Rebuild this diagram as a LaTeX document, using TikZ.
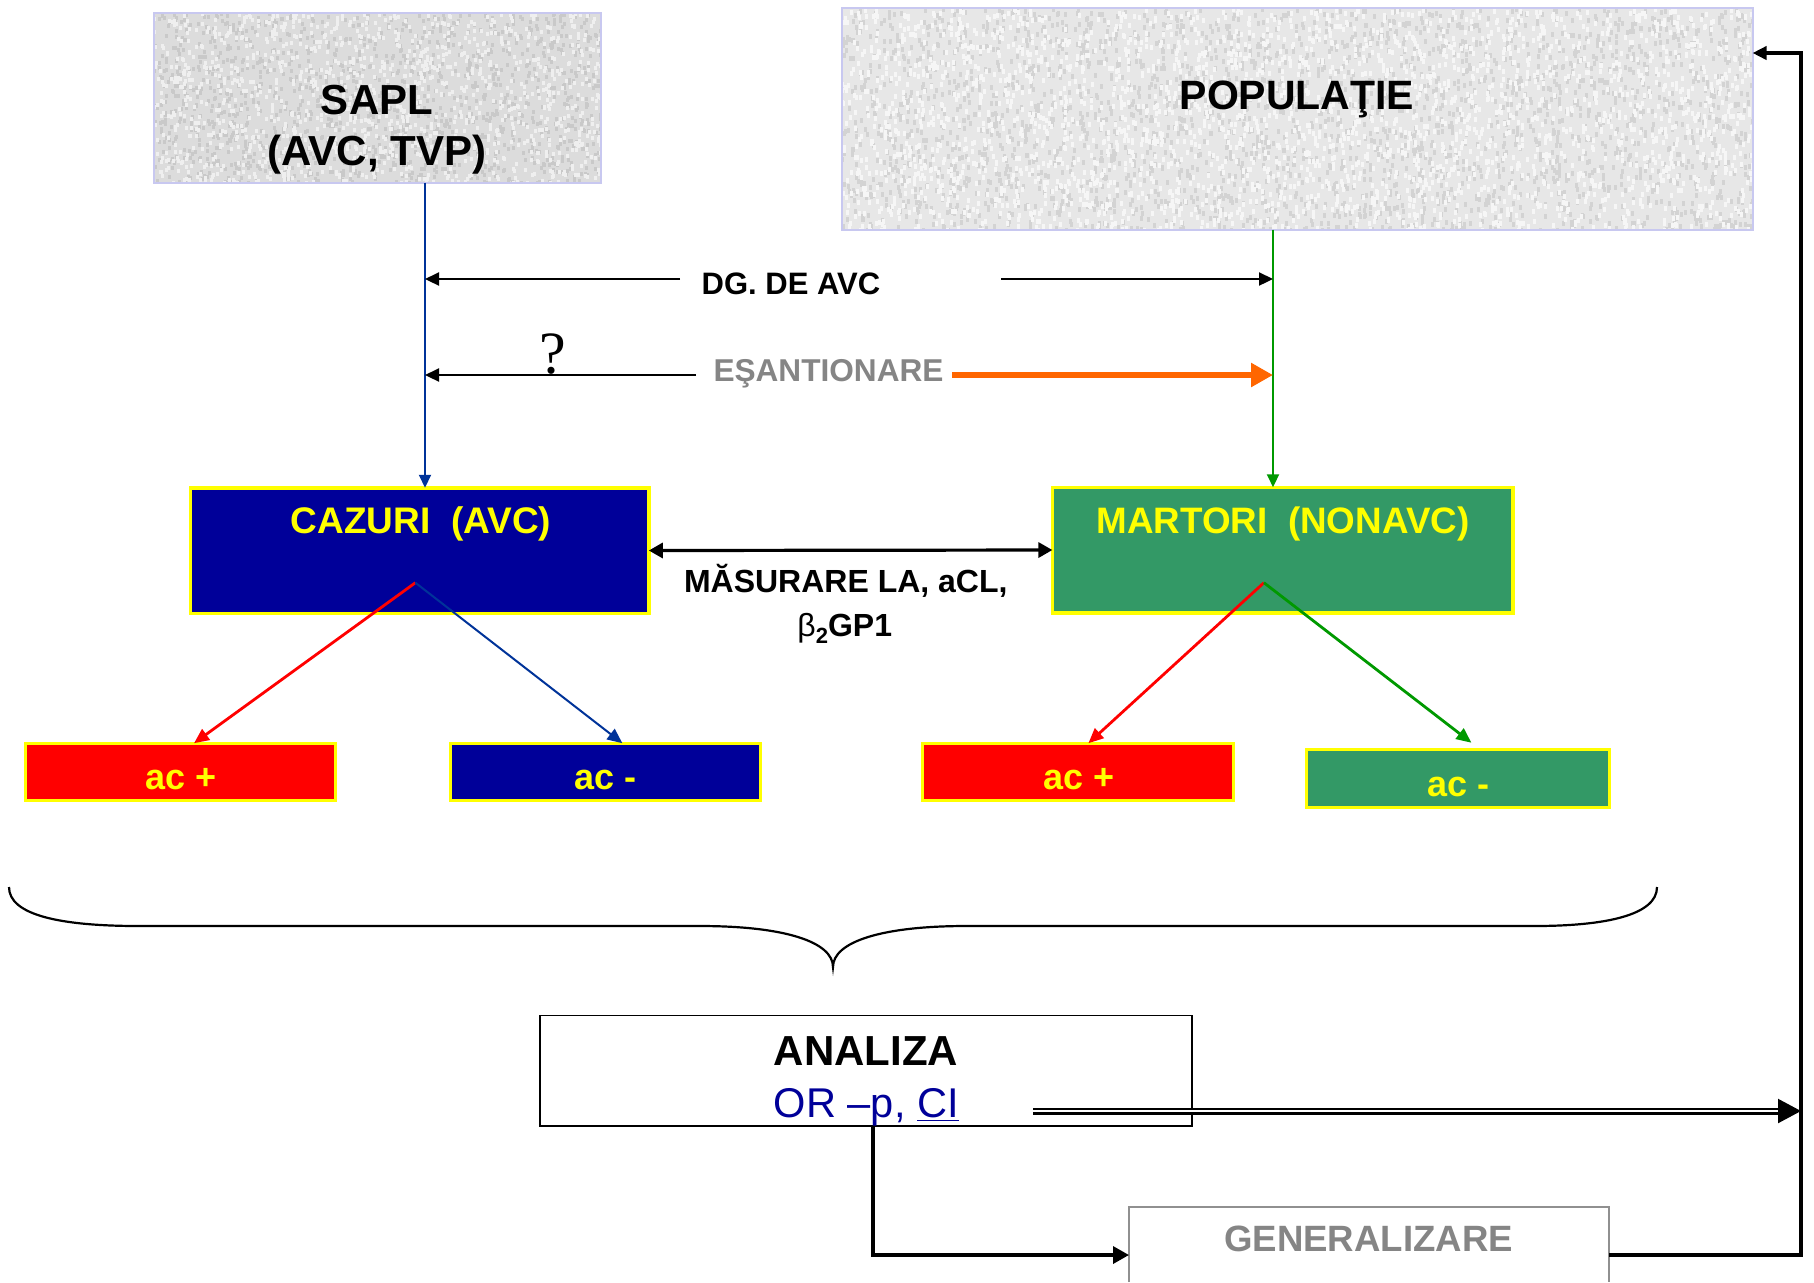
\documentclass[tikz,border=0pt]{standalone}
\usepackage{fontspec}
\setmainfont{Liberation Sans}
\newfontfamily\qfont{Liberation Serif}
\usetikzlibrary{arrows.meta}

\definecolor{boxblue}{HTML}{000099}
\definecolor{boxgreen}{HTML}{339966}
\definecolor{boxred}{HTML}{FF0000}
\definecolor{hiyellow}{HTML}{FFFF00}
\definecolor{lineblue}{HTML}{003399}
\definecolor{linegreen}{HTML}{009900}
\definecolor{orangearrow}{HTML}{FF6600}
\definecolor{framelav}{HTML}{C8C8F0}
\definecolor{graniteA}{HTML}{DCDCDC}
\definecolor{darkA}{HTML}{C9C9C9}
\definecolor{lightA}{HTML}{EFEFEF}
\definecolor{graniteB}{HTML}{E7E7E7}
\definecolor{darkB}{HTML}{D3D3D3}
\definecolor{lightB}{HTML}{F6F6F6}
\definecolor{textgray}{HTML}{858585}
\definecolor{framegray}{HTML}{909090}

\newcommand\setfs[1]{\fontsize{#1pt}{#1pt}\selectfont}
% random blotches inside a rectangle: x0, y0, w, h, count, colour, blotch height
\newcommand\speckle[7]{%
  \foreach \k in {1,...,#5}{%
    \pgfmathsetmacro\spx{#1+rnd*#3}%
    \pgfmathsetmacro\spy{#2+rnd*#4}%
    \fill[#6] (\spx,\spy) rectangle ++(3,#7);
  }}

\begin{document}
\begin{tikzpicture}[x=0.5pt,y=-0.5pt,
  boxframe/.style={rectangle, inner sep=0pt, outer sep=0pt},
  txt/.style={inner sep=0pt, outer sep=0pt, anchor=base},
  colbox/.style={boxframe, draw=hiyellow, line width=1.75pt},
  acbox/.style={boxframe, draw=hiyellow, line width=1.5pt},
  thinarrow/.style={draw=black, line width=1.1pt, -{Triangle[length=7pt,width=6.5pt]}},
  splitarrow/.style={line width=1.4pt, -{Triangle[length=7.5pt,width=6.5pt]}},
  heavyline/.style={draw=black, line width=2pt}]
\useasboundingbox (0,0) rectangle (1814,1282);
\fill[white] (0,0) rectangle (1814,1282);
\pgfmathsetseed{4242}

% ---- source boxes with granite texture
\fill[graniteA] (153,12) rectangle (601,183);
\begin{scope}
  \clip (153,12) rectangle (601,183);
  \speckle{153}{12}{448}{171}{1300}{darkA}{4}
  \speckle{153}{12}{448}{171}{1300}{lightA}{4}
\end{scope}
\node[boxframe, draw=framelav, line width=1pt, minimum width=223.5pt, minimum height=85pt] (sapl) at (377,97.5) {};

\fill[graniteB] (841,7) rectangle (1753,230);
\begin{scope}
  \clip (841,7) rectangle (1753,230);
  \speckle{841}{7}{912}{223}{2800}{darkB}{5}
  \speckle{841}{7}{912}{223}{2800}{lightB}{5}
\end{scope}
\node[boxframe, draw=framelav, line width=1pt, minimum width=455.5pt, minimum height=111pt] (pop) at (1297,118.5) {};

\node[txt, font=\setfs{21}\bfseries] (saplA) at (377,114) {SAPL};
\node[txt, font=\setfs{21}\bfseries] (saplB) at (377,165) {(AVC, TVP)};
\node[txt, font=\setfs{20.5}\bfseries] (popT) at (1297,109.3) {POPULAŢIE};

% ---- case and control groups
\node[colbox, fill=boxblue, minimum width=229.2pt, minimum height=62.75pt] (caz) at (419.6,550.5) {};
\node[colbox, fill=boxgreen, minimum width=230.2pt, minimum height=62.75pt] (mar) at (1282.6,550) {};
\node[txt, font=\setfs{18.5}\bfseries, text=hiyellow] (cazT) at (421,533) {CAZURI\ \ (AVC)};
\node[txt, font=\setfs{18.4}\bfseries, text=hiyellow] (marT) at (1283,533.3) {MARTORI\ \ (NONAVC)};

% ---- antibody result boxes
\node[acbox, fill=boxred, minimum width=154.8pt, minimum height=28.5pt] (acp1) at (180.3,771.7) {};
\node[acbox, fill=boxblue, minimum width=154.8pt, minimum height=28.5pt] (acm1) at (605.3,771.7) {};
\node[acbox, fill=boxred, minimum width=155.3pt, minimum height=28.5pt] (acp2) at (1078,771.7) {};
\node[acbox, fill=boxgreen, minimum width=151.5pt, minimum height=29.2pt] (acm2) at (1458,778.3) {};
\node[txt, font=\setfs{18}\bfseries, text=hiyellow] (acp1T) at (181,789) {ac +};
\node[txt, font=\setfs{18}\bfseries, text=hiyellow] (acm1T) at (605.8,789) {ac -};
\node[txt, font=\setfs{18}\bfseries, text=hiyellow] (acp2T) at (1078.7,789) {ac +};
\node[txt, font=\setfs{18}\bfseries, text=hiyellow] (acm2T) at (1458.8,796.7) {ac -};

% ---- analysis and generalisation
\node[boxframe, draw=black, line width=0.9pt, minimum width=326.1pt, minimum height=55.25pt] (ana) at (866,1070.8) {};
\node[txt, font=\setfs{21}\bfseries] (anaT) at (866,1065.7) {ANALIZA};
\node[txt, font=\setfs{20.8}, text=boxblue] (orT) at (866.3,1117.3) {OR –p, \underline{CI}};

\node[boxframe, minimum width=240pt, minimum height=37.65pt] (gen) at (1369,1244.4) {};
\draw[framegray, line width=0.8pt] (gen.south west) -- (gen.north west) -- (gen.north east) -- (gen.south east);
\node[txt, font=\setfs{18.3}\bfseries, text=textgray] (genT) at (1368.6,1251.7) {GENERALIZARE};

% ---- row labels
\node[txt, font=\setfs{15.5}\bfseries] (dgT) at (791,294.3) {DG. DE AVC};
\node[txt, font=\setfs{15.8}\bfseries, text=textgray] (esT) at (828.5,381.7) {EŞANTIONARE};
\node[txt, font=\qfont\setfs{30}] (qT) at (553,373) {?};
\node[txt, font=\setfs{16}\bfseries] (masT) at (845.8,592.7) {MĂSURARE LA, aCL,};
\node[txt, font=\setfs{16}\bfseries] (betaT) at (844.7,636.7) {{\mdseries β}\raisebox{-3.5pt}{\setfs{11}2}GP1};

% ---- reference coordinates for the wires
\coordinate (bx) at (425,0);
\coordinate (gx) at (1273,0);
\coordinate (dgL) at (680,279);
\coordinate (dgR) at (1001,279);
\coordinate (esL) at (696,375);
\coordinate (esR) at (952,375);
\coordinate (cs) at (415.4,582.7);
\coordinate (ms) at (1263.9,582.7);
\coordinate (t1) at (194,0);
\coordinate (t2) at (622.4,0);
\coordinate (t3) at (1088.4,0);
\coordinate (t4) at (1471.4,742.7);
\coordinate (vx) at (873,0);
\coordinate (hy) at (0,1255);
\coordinate (rv) at (1801,0);
\coordinate (ty) at (0,53);
\coordinate (dbl) at (1033,1111);

% ---- vertical feeds
\draw[lineblue, line width=1pt, -{Triangle[length=6.5pt,width=6pt]}] (sapl.south -| bx) -- (caz.north -| bx);
\draw[linegreen, line width=1pt, -{Triangle[length=6.5pt,width=6pt]}] (pop.south -| gx) -- (mar.north -| gx);

% ---- horizontal relations
\draw[thinarrow] (dgL) -- (dgL -| bx);
\draw[thinarrow] (dgR) -- (dgR -| gx);
\draw[thinarrow] (esL) -- (esL -| bx);
\draw[orangearrow, line width=3.3pt, -{Triangle[length=11pt,width=11.5pt]}] (esR) -- (esR -| gx);
\draw[black, line width=1.6pt, {Triangle[length=7pt,width=7.5pt]}-{Triangle[length=7pt,width=7.5pt]}] (caz.east) -- (mar.west);

% ---- splits into antibody classes
\draw[splitarrow, boxred] (cs) -- (acp1.north -| t1);
\draw[splitarrow, lineblue, line width=1pt] (cs) -- (acm1.north -| t2);
\draw[splitarrow, boxred] (ms) -- (acp2.north -| t3);
\draw[splitarrow, linegreen] (ms) -- (t4);

% ---- brace collecting all groups
\draw[black, line width=1.1pt]
  (9,887) .. controls (9,915) and (60,926) .. (139,926) -- (700,926)
  .. controls (785,926) and (833,942) .. (833,967)
  .. controls (833,942) and (881,926) .. (966,926) -- (1534,926)
  .. controls (1606,926) and (1657,915) .. (1657,887);

% ---- analysis flow
\draw[heavyline, line width=1.7pt, -{Triangle[length=8pt,width=8.5pt]}] (ana.south -| vx) -- (vx |- hy) -- (gen.west |- hy);
\draw[heavyline, -{Triangle[length=7pt,width=6.5pt]}] (gen.east |- hy) -- (rv |- hy) -- (rv |- ty) -- (pop.east |- ty);
\draw[black, line width=1.1pt, double distance=1.3pt, -{Triangle[length=11.5pt,width=12pt]}] (dbl) -- (dbl -| rv);
\end{tikzpicture}
\end{document}
